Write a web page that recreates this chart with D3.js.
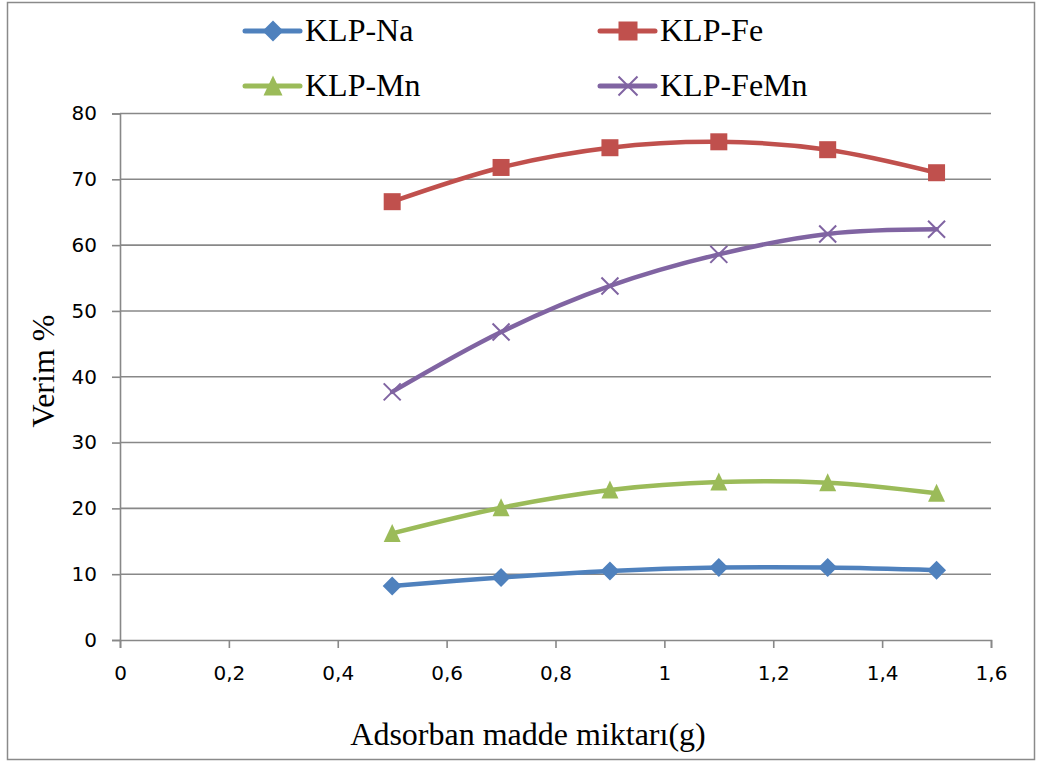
<!DOCTYPE html>
<html>
<head>
<meta charset="utf-8">
<script src="https://cdn.jsdelivr.net/npm/d3@7"></script>
<style>
  html, body { margin: 0; padding: 0; background: #fff; }
  svg { display: block; }
</style>
</head>
<body>
<svg id="chart" width="1039" height="762"></svg>
<script>
// Adsorbent amount (g) on the x axis
const doses = [0.5, 0.7, 0.9, 1.1, 1.3, 1.5];

// Yield (%) per adsorbent
const naValues   = [8.2, 9.5, 10.5, 11.0, 11.0, 10.6];
const feValues   = [66.6, 71.8, 74.8, 75.7, 74.5, 71.0];
const mnValues   = [16.2, 20.1, 22.8, 24.0, 23.9, 22.3];
const femnValues = [37.7, 46.8, 53.8, 58.6, 61.7, 62.4];

const seriesNames = ["KLP-Na", "KLP-Fe", "KLP-Mn", "KLP-FeMn"];
const xTicks = [0, 0.2, 0.4, 0.6, 0.8, 1, 1.2, 1.4, 1.6];
const yTicks = [0, 10, 20, 30, 40, 50, 60, 70, 80];

const xTitle = "Adsorban madde miktarı(g)";
const yTitle = "Verim %";

const series = [
  { name: seriesNames[0], values: naValues,   color: "#4F81BD", marker: "diamond" },
  { name: seriesNames[1], values: feValues,   color: "#C0504D", marker: "square" },
  { name: seriesNames[2], values: mnValues,   color: "#9BBB59", marker: "triangle" },
  { name: seriesNames[3], values: femnValues, color: "#8064A2", marker: "cross" }
];

const svg = d3.select("#chart");
const gridColor = "#888888";

// outer chart frame
svg.append("rect")
  .attr("x", 7.5).attr("y", 2.5)
  .attr("width", 1027).attr("height", 757)
  .attr("fill", "#fff")
  .attr("stroke", "#8a8a8a").attr("stroke-width", 1.5);

const x = d3.scaleLinear().domain([0, 1.6]).range([120, 991]);
const y = d3.scaleLinear().domain([0, 80]).range([640, 113.5]);

const fmt = d => String(d).replace(".", ",");

// horizontal gridlines
svg.append("g")
  .selectAll("line")
  .data(yTicks.filter(d => d > 0))
  .join("line")
  .attr("x1", x(0)).attr("x2", x(1.6))
  .attr("y1", d => y(d)).attr("y2", d => y(d))
  .attr("stroke", gridColor).attr("stroke-width", 1.6);

// y axis
const yAxis = svg.append("g")
  .attr("transform", `translate(${x(0)},0)`)
  .call(d3.axisLeft(y).tickValues(yTicks).tickSize(8).tickPadding(15).tickFormat(d => d));
yAxis.select(".domain").attr("stroke", gridColor).attr("stroke-width", 1.6);
yAxis.selectAll(".tick line").attr("stroke", gridColor).attr("stroke-width", 1.6);
yAxis.selectAll(".tick text")
  .attr("font-family", "DejaVu Sans, sans-serif")
  .attr("font-size", 20)
  .attr("fill", "#000");

// x axis
const xAxis = svg.append("g")
  .attr("transform", `translate(0,${y(0)})`)
  .call(d3.axisBottom(x).tickValues(xTicks).tickSize(8).tickPadding(18).tickFormat(fmt));
xAxis.select(".domain").attr("stroke", gridColor).attr("stroke-width", 1.6);
xAxis.selectAll(".tick line").attr("stroke", gridColor).attr("stroke-width", 1.6);
xAxis.selectAll(".tick text")
  .attr("font-family", "DejaVu Sans, sans-serif")
  .attr("font-size", 20)
  .attr("fill", "#000");

// axis titles
svg.append("text")
  .attr("x", 528)
  .attr("y", 745)
  .attr("text-anchor", "middle")
  .attr("font-family", "Liberation Serif, Times New Roman, serif")
  .attr("font-size", 32)
  .text(xTitle);

svg.append("text")
  .attr("transform", `translate(54,${371}) rotate(-90)`)
  .attr("text-anchor", "middle")
  .attr("font-family", "Liberation Serif, Times New Roman, serif")
  .attr("font-size", 32)
  .text(yTitle);

// marker drawing
function drawMarker(g, type, color, size) {
  const h = size / 2;
  if (type === "diamond") {
    g.append("path")
      .attr("d", `M0,${-h - 1}L${h + 1},0L0,${h + 1}L${-h - 1},0Z`)
      .attr("fill", color);
  } else if (type === "square") {
    g.append("rect")
      .attr("x", -h).attr("y", -h).attr("width", size).attr("height", size)
      .attr("fill", color);
  } else if (type === "triangle") {
    g.append("path")
      .attr("d", `M0,${-h - 1}L${h},${h}L${-h},${h}Z`)
      .attr("fill", color);
  } else if (type === "cross") {
    g.append("path")
      .attr("d", `M${-h},${-h}L${h},${h}M${-h},${h}L${h},${-h}`)
      .attr("stroke", color).attr("stroke-width", 2).attr("fill", "none");
  }
}

const line = d3.line()
  .x(d => x(d[0]))
  .y(d => y(d[1]))
  .curve(d3.curveCardinal.tension(0));

// series lines and markers
series.forEach(s => {
  const pts = doses.map((d, i) => [d, s.values[i]]);
  svg.append("path")
    .datum(pts)
    .attr("d", line)
    .attr("fill", "none")
    .attr("stroke", s.color)
    .attr("stroke-width", 4.5)
    .attr("stroke-linecap", "round");
  pts.forEach(p => {
    const g = svg.append("g").attr("transform", `translate(${x(p[0])},${y(p[1])})`);
    drawMarker(g, s.marker, s.color, 17);
  });
});

// legend
const legendPos = [
  { lx: 245, ly: 31 },
  { lx: 600, ly: 31 },
  { lx: 245, ly: 86 },
  { lx: 600, ly: 86 }
];
series.forEach((s, i) => {
  const p = legendPos[i];
  const g = svg.append("g").attr("transform", `translate(${p.lx},${p.ly})`);
  g.append("line")
    .attr("x1", 0).attr("x2", 55).attr("y1", 0).attr("y2", 0)
    .attr("stroke", s.color).attr("stroke-width", 5).attr("stroke-linecap", "round");
  const m = g.append("g").attr("transform", "translate(28,0)");
  drawMarker(m, s.marker, s.color, 19);
  g.append("text")
    .attr("x", 60).attr("y", 10)
    .attr("font-family", "Liberation Serif, Times New Roman, serif")
    .attr("font-size", 32)
    .attr("fill", "#000")
    .text(s.name);
});
</script>
</body>
</html>
